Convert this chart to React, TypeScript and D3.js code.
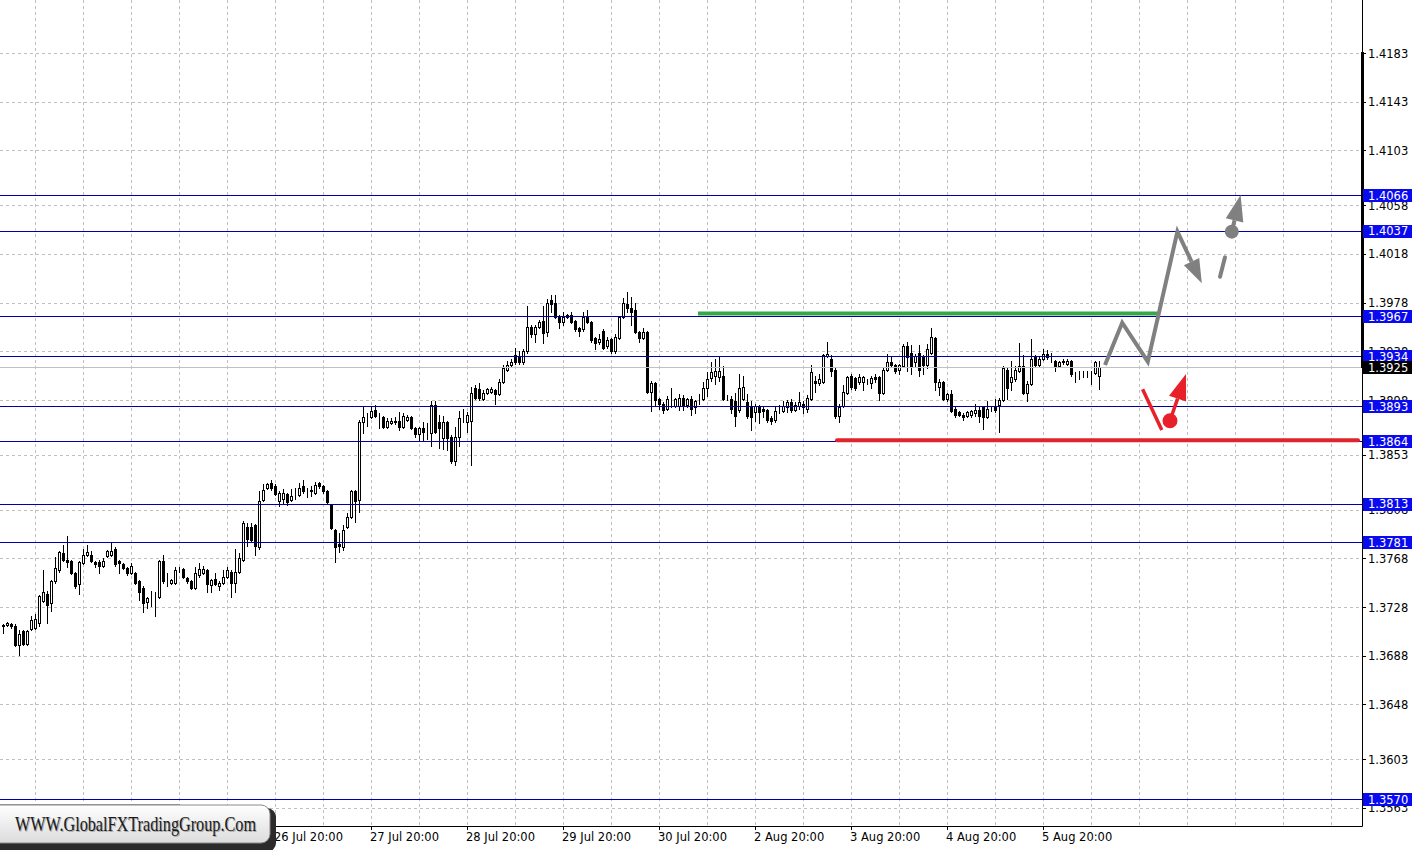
import React from 'react';
import * as d3 from 'd3';

// H1 candles, [open, high, low, close]
const ohlc: [number, number, number, number][] = [
  [1.3712, 1.3714, 1.3707, 1.3713], [1.3713, 1.3716, 1.3712, 1.3715], [1.3714, 1.3715, 1.3711, 1.3712], [1.3712, 1.3714, 1.3696, 1.3697],
  [1.3697, 1.3709, 1.3689, 1.3706], [1.3708, 1.3709, 1.3697, 1.3698], [1.3698, 1.3709, 1.3697, 1.3708], [1.3710, 1.3721, 1.3709, 1.3717],
  [1.3711, 1.3722, 1.3710, 1.3718], [1.3715, 1.3738, 1.3712, 1.3737], [1.3733, 1.3758, 1.3732, 1.3740], [1.3739, 1.3741, 1.3715, 1.3730],
  [1.3731, 1.3750, 1.3725, 1.3749], [1.3749, 1.3769, 1.3748, 1.3760], [1.3758, 1.3774, 1.3757, 1.3773], [1.3772, 1.3779, 1.3766, 1.3767],
  [1.3767, 1.3786, 1.3761, 1.3765], [1.3766, 1.3767, 1.3755, 1.3756], [1.3756, 1.3757, 1.3744, 1.3745], [1.3747, 1.3766, 1.3739, 1.3765],
  [1.3764, 1.3776, 1.3763, 1.3771], [1.3771, 1.3779, 1.3770, 1.3773], [1.3771, 1.3774, 1.3765, 1.3766], [1.3765, 1.3766, 1.3761, 1.3763],
  [1.3765, 1.3767, 1.3756, 1.3762], [1.3762, 1.3768, 1.3761, 1.3766], [1.3770, 1.3775, 1.3769, 1.3774], [1.3771, 1.3781, 1.3770, 1.3774],
  [1.3776, 1.3777, 1.3762, 1.3763], [1.3766, 1.3767, 1.3756, 1.3764], [1.3763, 1.3764, 1.3759, 1.3760], [1.3760, 1.3761, 1.3754, 1.3756],
  [1.3756, 1.3764, 1.3755, 1.3762], [1.3756, 1.3757, 1.3747, 1.3748], [1.3749, 1.3750, 1.3734, 1.3740], [1.3744, 1.3745, 1.3724, 1.3731],
  [1.3732, 1.3736, 1.3727, 1.3735], [1.3736, 1.3741, 1.3729, 1.3736], [1.3736, 1.3740, 1.3721, 1.3736], [1.3736, 1.3767, 1.3735, 1.3766],
  [1.3766, 1.3771, 1.3748, 1.3749], [1.3749, 1.3756, 1.3745, 1.3749], [1.3748, 1.3751, 1.3747, 1.3750], [1.3748, 1.3761, 1.3747, 1.3758],
  [1.3759, 1.3761, 1.3757, 1.3759], [1.3759, 1.3760, 1.3752, 1.3753], [1.3752, 1.3753, 1.3748, 1.3749], [1.3749, 1.3750, 1.3743, 1.3744],
  [1.3744, 1.3761, 1.3743, 1.3756], [1.3754, 1.3764, 1.3753, 1.3759], [1.3756, 1.3762, 1.3755, 1.3759], [1.3758, 1.3759, 1.3740, 1.3747],
  [1.3746, 1.3751, 1.3740, 1.3750], [1.3751, 1.3756, 1.3746, 1.3747], [1.3745, 1.3749, 1.3742, 1.3748], [1.3748, 1.3758, 1.3747, 1.3753],
  [1.3753, 1.3761, 1.3752, 1.3758], [1.3757, 1.3758, 1.3736, 1.3748], [1.3748, 1.3776, 1.3740, 1.3757], [1.3757, 1.3772, 1.3756, 1.3768],
  [1.3767, 1.3799, 1.3766, 1.3797], [1.3794, 1.3797, 1.3778, 1.3784], [1.3794, 1.3797, 1.3782, 1.3783], [1.3795, 1.3796, 1.3771, 1.3778],
  [1.3777, 1.3823, 1.3776, 1.3815], [1.3816, 1.3829, 1.3815, 1.3824], [1.3826, 1.3830, 1.3825, 1.3829], [1.3830, 1.3832, 1.3824, 1.3826],
  [1.3827, 1.3829, 1.3820, 1.3821], [1.3815, 1.3823, 1.3811, 1.3822], [1.3817, 1.3825, 1.3813, 1.3822], [1.3821, 1.3822, 1.3812, 1.3814],
  [1.3816, 1.3825, 1.3815, 1.3819], [1.3819, 1.3826, 1.3817, 1.3819], [1.3820, 1.3830, 1.3819, 1.3826], [1.3827, 1.3832, 1.3822, 1.3823],
  [1.3823, 1.3826, 1.3818, 1.3823], [1.3823, 1.3827, 1.3819, 1.3824], [1.3822, 1.3831, 1.3821, 1.3828], [1.3830, 1.3831, 1.3826, 1.3827],
  [1.3827, 1.3828, 1.3822, 1.3823], [1.3823, 1.3824, 1.3813, 1.3814], [1.3812, 1.3813, 1.3792, 1.3793], [1.3791, 1.3792, 1.3765, 1.3777],
  [1.3780, 1.3789, 1.3773, 1.3778], [1.3777, 1.3795, 1.3775, 1.3791], [1.3794, 1.3805, 1.3793, 1.3802], [1.3802, 1.3824, 1.3801, 1.3823],
  [1.3823, 1.3824, 1.3798, 1.3815], [1.3816, 1.3882, 1.3806, 1.3880], [1.3880, 1.3893, 1.3871, 1.3884], [1.3884, 1.3887, 1.3877, 1.3884],
  [1.3884, 1.3893, 1.3883, 1.3889], [1.3890, 1.3894, 1.3884, 1.3885], [1.3885, 1.3887, 1.3875, 1.3885], [1.3884, 1.3885, 1.3875, 1.3876],
  [1.3876, 1.3883, 1.3875, 1.3881], [1.3879, 1.3883, 1.3878, 1.3881], [1.3880, 1.3884, 1.3878, 1.3881], [1.3881, 1.3888, 1.3873, 1.3876],
  [1.3876, 1.3887, 1.3875, 1.3885], [1.3882, 1.3886, 1.3881, 1.3884], [1.3884, 1.3885, 1.3874, 1.3875], [1.3875, 1.3876, 1.3868, 1.3870],
  [1.3870, 1.3876, 1.3864, 1.3875], [1.3875, 1.3880, 1.3864, 1.3872], [1.3872, 1.3879, 1.3866, 1.3872], [1.3871, 1.3897, 1.3860, 1.3894],
  [1.3894, 1.3897, 1.3871, 1.3872], [1.3880, 1.3886, 1.3859, 1.3875], [1.3867, 1.3885, 1.3858, 1.3880], [1.3880, 1.3881, 1.3857, 1.3867],
  [1.3868, 1.3869, 1.3846, 1.3848], [1.3848, 1.3876, 1.3845, 1.3868], [1.3868, 1.3889, 1.3860, 1.3883], [1.3884, 1.3891, 1.3880, 1.3884],
  [1.3880, 1.3888, 1.3872, 1.3886], [1.3881, 1.3909, 1.3845, 1.3904], [1.3908, 1.3910, 1.3899, 1.3900], [1.3907, 1.3912, 1.3898, 1.3900],
  [1.3899, 1.3906, 1.3898, 1.3904], [1.3904, 1.3908, 1.3903, 1.3907], [1.3905, 1.3909, 1.3904, 1.3907], [1.3906, 1.3907, 1.3895, 1.3903],
  [1.3903, 1.3915, 1.3902, 1.3913], [1.3913, 1.3927, 1.3912, 1.3924], [1.3923, 1.3930, 1.3922, 1.3927], [1.3927, 1.3932, 1.3926, 1.3929],
  [1.3935, 1.3941, 1.3928, 1.3929], [1.3934, 1.3938, 1.3928, 1.3929], [1.3929, 1.3940, 1.3928, 1.3938], [1.3938, 1.3975, 1.3937, 1.3958],
  [1.3958, 1.3960, 1.3950, 1.3952], [1.3952, 1.3960, 1.3946, 1.3958], [1.3958, 1.3964, 1.3957, 1.3962], [1.3963, 1.3975, 1.3945, 1.3953],
  [1.3954, 1.3981, 1.3951, 1.3978], [1.3980, 1.3984, 1.3970, 1.3977], [1.3978, 1.3984, 1.3965, 1.3966], [1.3966, 1.3968, 1.3957, 1.3962],
  [1.3962, 1.3970, 1.3960, 1.3966], [1.3966, 1.3969, 1.3965, 1.3968], [1.3968, 1.3970, 1.3961, 1.3962], [1.3963, 1.3964, 1.3955, 1.3956],
  [1.3957, 1.3958, 1.3951, 1.3955], [1.3956, 1.3970, 1.3955, 1.3966], [1.3967, 1.3972, 1.3961, 1.3962], [1.3962, 1.3963, 1.3946, 1.3947],
  [1.3949, 1.3950, 1.3940, 1.3945], [1.3946, 1.3952, 1.3944, 1.3948], [1.3955, 1.3956, 1.3940, 1.3941], [1.3942, 1.3950, 1.3941, 1.3947],
  [1.3948, 1.3949, 1.3937, 1.3938], [1.3938, 1.3952, 1.3937, 1.3950], [1.3949, 1.3967, 1.3948, 1.3966], [1.3966, 1.3982, 1.3965, 1.3978],
  [1.3977, 1.3987, 1.3970, 1.3974], [1.3974, 1.3983, 1.3960, 1.3970], [1.3972, 1.3978, 1.3953, 1.3954], [1.3954, 1.3955, 1.3946, 1.3949],
  [1.3949, 1.3957, 1.3948, 1.3954], [1.3954, 1.3955, 1.3904, 1.3905], [1.3905, 1.3914, 1.3889, 1.3912], [1.3912, 1.3913, 1.3894, 1.3898],
  [1.3899, 1.3900, 1.3891, 1.3895], [1.3895, 1.3896, 1.3887, 1.3890], [1.3891, 1.3901, 1.3890, 1.3899], [1.3896, 1.3908, 1.3892, 1.3896],
  [1.3893, 1.3900, 1.3892, 1.3899], [1.3893, 1.3903, 1.3890, 1.3900], [1.3900, 1.3902, 1.3890, 1.3893], [1.3894, 1.3900, 1.3892, 1.3899],
  [1.3899, 1.3901, 1.3886, 1.3891], [1.3892, 1.3898, 1.3887, 1.3897], [1.3899, 1.3903, 1.3895, 1.3899], [1.3899, 1.3913, 1.3898, 1.3908],
  [1.3908, 1.3921, 1.3901, 1.3915], [1.3916, 1.3929, 1.3914, 1.3921], [1.3918, 1.3932, 1.3911, 1.3922], [1.3917, 1.3933, 1.3914, 1.3922],
  [1.3918, 1.3926, 1.3898, 1.3899], [1.3900, 1.3902, 1.3898, 1.3900], [1.3899, 1.3901, 1.3887, 1.3891], [1.3897, 1.3904, 1.3877, 1.3885],
  [1.3890, 1.3919, 1.3888, 1.3908], [1.3899, 1.3918, 1.3898, 1.3909], [1.3896, 1.3903, 1.3883, 1.3885], [1.3893, 1.3897, 1.3873, 1.3884],
  [1.3888, 1.3895, 1.3881, 1.3893], [1.3893, 1.3894, 1.3879, 1.3888], [1.3891, 1.3893, 1.3884, 1.3889], [1.3890, 1.3891, 1.3880, 1.3882],
  [1.3883, 1.3885, 1.3878, 1.3881], [1.3882, 1.3892, 1.3880, 1.3889], [1.3892, 1.3894, 1.3887, 1.3892], [1.3889, 1.3897, 1.3888, 1.3893],
  [1.3892, 1.3898, 1.3888, 1.3896], [1.3896, 1.3899, 1.3888, 1.3890], [1.3890, 1.3896, 1.3889, 1.3894], [1.3893, 1.3905, 1.3891, 1.3896],
  [1.3895, 1.3897, 1.3887, 1.3892], [1.3891, 1.3902, 1.3888, 1.3900], [1.3899, 1.3927, 1.3898, 1.3921], [1.3914, 1.3918, 1.3905, 1.3912],
  [1.3912, 1.3919, 1.3910, 1.3915], [1.3913, 1.3936, 1.3912, 1.3935], [1.3934, 1.3946, 1.3933, 1.3936], [1.3932, 1.3935, 1.3918, 1.3922],
  [1.3923, 1.3924, 1.3883, 1.3885], [1.3885, 1.3895, 1.3880, 1.3892], [1.3893, 1.3910, 1.3892, 1.3905], [1.3904, 1.3918, 1.3903, 1.3917],
  [1.3918, 1.3919, 1.3907, 1.3909], [1.3916, 1.3917, 1.3906, 1.3908], [1.3913, 1.3919, 1.3911, 1.3917], [1.3913, 1.3918, 1.3906, 1.3917],
  [1.3913, 1.3915, 1.3911, 1.3913], [1.3912, 1.3918, 1.3908, 1.3916], [1.3917, 1.3919, 1.3913, 1.3915], [1.3917, 1.3918, 1.3898, 1.3904],
  [1.3904, 1.3925, 1.3903, 1.3923], [1.3923, 1.3936, 1.3922, 1.3929], [1.3929, 1.3933, 1.3925, 1.3927], [1.3927, 1.3928, 1.3920, 1.3922],
  [1.3923, 1.3928, 1.3919, 1.3927], [1.3926, 1.3944, 1.3925, 1.3942], [1.3942, 1.3946, 1.3922, 1.3933], [1.3937, 1.3943, 1.3919, 1.3926],
  [1.3929, 1.3936, 1.3926, 1.3934], [1.3937, 1.3943, 1.3918, 1.3923], [1.3934, 1.3935, 1.3919, 1.3927], [1.3927, 1.3944, 1.3924, 1.3940],
  [1.3937, 1.3957, 1.3936, 1.3950], [1.3949, 1.3950, 1.3906, 1.3913], [1.3909, 1.3915, 1.3902, 1.3913], [1.3913, 1.3914, 1.3898, 1.3899],
  [1.3899, 1.3904, 1.3897, 1.3903], [1.3903, 1.3906, 1.3888, 1.3889], [1.3891, 1.3893, 1.3884, 1.3886], [1.3888, 1.3889, 1.3885, 1.3886],
  [1.3886, 1.3887, 1.3882, 1.3884], [1.3885, 1.3889, 1.3884, 1.3888], [1.3886, 1.3890, 1.3884, 1.3889], [1.3887, 1.3895, 1.3885, 1.3890],
  [1.3890, 1.3892, 1.3880, 1.3885], [1.3892, 1.3893, 1.3874, 1.3884], [1.3884, 1.3897, 1.3883, 1.3891], [1.3891, 1.3893, 1.3889, 1.3891],
  [1.3893, 1.3899, 1.3888, 1.3890], [1.3894, 1.3900, 1.3872, 1.3898], [1.3898, 1.3926, 1.3897, 1.3924], [1.3923, 1.3925, 1.3899, 1.3908],
  [1.3913, 1.3930, 1.3906, 1.3917], [1.3915, 1.3926, 1.3914, 1.3923], [1.3922, 1.3945, 1.3921, 1.3926], [1.3926, 1.3935, 1.3903, 1.3904],
  [1.3904, 1.3914, 1.3897, 1.3911], [1.3911, 1.3948, 1.3910, 1.3932], [1.3933, 1.3935, 1.3926, 1.3927], [1.3927, 1.3933, 1.3925, 1.3932],
  [1.3932, 1.3940, 1.3931, 1.3936], [1.3936, 1.3939, 1.3932, 1.3933], [1.3933, 1.3937, 1.3929, 1.3933], [1.3930, 1.3931, 1.3922, 1.3926],
  [1.3926, 1.3930, 1.3925, 1.3929], [1.3929, 1.3932, 1.3928, 1.3930], [1.3928, 1.3932, 1.3927, 1.3930], [1.3930, 1.3931, 1.3918, 1.3919],
  [1.3919, 1.3921, 1.3913, 1.3919], [1.3920, 1.3922, 1.3915, 1.3920], [1.3920, 1.3922, 1.3917, 1.3920], [1.3920, 1.3922, 1.3917, 1.3920],
  [1.3920, 1.3922, 1.3911, 1.3920], [1.3920, 1.3930, 1.3919, 1.3929], [1.3918, 1.3930, 1.3907, 1.3925],
];

const levels = [1.4066, 1.4037, 1.3967, 1.3934, 1.3893, 1.3864, 1.3813, 1.3781, 1.3570];
const bidPrice = 1.3925;
const priceTicks = [1.4183, 1.4143, 1.4103, 1.4058, 1.4018, 1.3978, 1.3938, 1.3898, 1.3853, 1.3808, 1.3768, 1.3728, 1.3688, 1.3648, 1.3603, 1.3563];
const dateBars = [20, 44, 68, 92, 116, 140, 164, 188, 212, 236, 260];
const dateTexts = ['22 Jul 20:00', '23 Jul 20:00', '26 Jul 20:00', '27 Jul 20:00', '28 Jul 20:00', '29 Jul 20:00', '30 Jul 20:00', '2 Aug 20:00', '3 Aug 20:00', '4 Aug 20:00', '5 Aug 20:00'];

// drawn objects: [bar, price]
const resistanceSeg: [number, number][] = [[173.75, 1.3969], [288.5, 1.3969]];
const supportSeg: [number, number][] = [[208.5, 1.3865], [338.75, 1.3865]];
const grayZigzag: [number, number][] = [[275.5, 1.39268], [279.8, 1.39615], [286.2, 1.39295], [293.6, 1.40363], [299.7, 1.39939]];
const grayDash: [number, number][] = [[304.25, 1.39993], [305.5, 1.40152]];
const grayDot: [number, number] = [307.2, 1.40363];
const grayUpTip: [number, number] = [309.4, 1.40664];
const redStroke: [number, number][] = [[284.9, 1.39068], [289.7, 1.38734]];
const redDot: [number, number] = [291.75, 1.38810];
const redUpTip: [number, number] = [295.75, 1.39194];

const plotRight = 1362;
const plotBottom = 826;
const font = '"DejaVu Sans", Tahoma, sans-serif';

function arrowHead(x1: number, y1: number, x2: number, y2: number, len: number, half: number) {
  const dx = x2 - x1, dy = y2 - y1;
  const d = Math.hypot(dx, dy);
  const ux = dx / d, uy = dy / d;
  const bx = x2 - ux * len, by = y2 - uy * len;
  const pts = [[x2, y2], [bx - uy * half, by + ux * half], [bx + uy * half, by - ux * half]];
  return { base: [bx, by], points: pts.map(p => p.join(',')).join(' ') };
}

export default function App() {
  const x = d3.scaleLinear().domain([-0.75, 339.75]).range([0, plotRight]);
  const y = d3.scaleLinear().domain([1.354814, 1.422657]).range([plotBottom, 0]);
  const gridBars = d3.range(8, 340, 12);
  const px = (p: [number, number]) => [x(p[0]), y(p[1])];
  const line = d3.line<[number, number]>().x(d => x(d[0])).y(d => y(d[1]));
  const crisp = (v: number) => Math.round(v) + 0.5;

  const zz = grayZigzag;
  const zzLast = px(zz[zz.length - 1]);
  const zzPrev = px(zz[zz.length - 2]);
  const zzHead = arrowHead(zzPrev[0], zzPrev[1], zzLast[0], zzLast[1], 24, 8.5);
  const zzBody = [...zz.slice(0, -1).map(px), zzHead.base];

  const gd = px(grayDot), gt = px(grayUpTip);
  const gHead = arrowHead(gd[0], gd[1], gt[0], gt[1], 26, 9);
  const rd = px(redDot), rt = px(redUpTip);
  const rHead = arrowHead(rd[0], rd[1], rt[0], rt[1], 26, 9);

  return (
    <svg width={1419} height={850} style={{ position: 'absolute', left: 0, top: 0, background: '#fff' }}>
      <rect width={1419} height={850} fill="#fff" />
      {/* grid */}
      {gridBars.map(b => (
        <line key={'gv' + b} x1={crisp(x(b))} x2={crisp(x(b))} y1={0} y2={plotBottom}
          stroke="#c0c0c0" strokeDasharray="3,3" />
      ))}
      {priceTicks.map(t => (
        <line key={'gh' + t} x1={0} x2={plotRight} y1={crisp(y(t))} y2={crisp(y(t))}
          stroke="#c0c0c0" strokeDasharray="3,3" />
      ))}

      {/* candles */}
      {ohlc.map(([o, h, l, c], i) => {
        const cx = Math.round(x(i)) + 0.5;
        const yo = Math.round(y(o)), yc = Math.round(y(c));
        const yh = Math.round(y(h)), yl = Math.round(y(l));
        const top = Math.min(yo, yc), bot = Math.max(yo, yc);
        return (
          <g key={'c' + i}>
            <line x1={cx} x2={cx} y1={yh} y2={yl + 1} stroke="#000" />
            <rect x={cx - 1} y={top + 0.5} width={2} height={bot - top}
              fill={c >= o ? '#fff' : '#000'} stroke="#000" />
          </g>
        );
      })}

      {/* bid line */}
      <line x1={0} x2={plotRight} y1={crisp(y(bidPrice))} y2={crisp(y(bidPrice))} stroke="#c0c0c0" />
      {/* levels */}
      {levels.map(v => (
        <line key={'lv' + v} x1={0} x2={plotRight} y1={crisp(y(v))} y2={crisp(y(v))} stroke="#0000a8" />
      ))}

      {/* drawn segments */}
      <path d={line(resistanceSeg) || ''} stroke="#36a84c" strokeWidth={4} fill="none" />
      <path d={line(supportSeg) || ''} stroke="#e0242c" strokeWidth={4} fill="none" strokeLinecap="round" />

      {/* gray forecast */}
      <polyline points={zzBody.map(p => p.join(',')).join(' ')} fill="none" stroke="#808080" strokeWidth={4} strokeLinejoin="miter" />
      <polygon points={zzHead.points} fill="#808080" />
      <path d={line(grayDash) || ''} stroke="#808080" strokeWidth={4} fill="none" strokeLinecap="round" />
      <line x1={gd[0]} y1={gd[1]} x2={gHead.base[0]} y2={gHead.base[1]} stroke="#808080" strokeWidth={4} />
      <polygon points={gHead.points} fill="#808080" />
      <circle cx={gd[0]} cy={gd[1]} r={7} fill="#808080" />

      {/* red forecast */}
      <path d={line(redStroke) || ''} stroke="#e8202a" strokeWidth={3.5} fill="none" />
      <line x1={rd[0]} y1={rd[1]} x2={rHead.base[0]} y2={rHead.base[1]} stroke="#e8202a" strokeWidth={3.5} />
      <polygon points={rHead.points} fill="#e8202a" />
      <circle cx={rd[0]} cy={rd[1]} r={7.5} fill="#e8202a" />

      {/* axes */}
      <line x1={plotRight + 0.5} x2={plotRight + 0.5} y1={0} y2={plotBottom + 0.5} stroke="#000" />
      <line x1={0} x2={plotRight + 0.5} y1={plotBottom + 0.5} y2={plotBottom + 0.5} stroke="#000" />
      <rect x={plotRight - 1} y={Math.round(y(priceTicks[0])) - 1} width={3}
        height={Math.round(y(bidPrice)) - Math.round(y(priceTicks[0])) + 2} fill="#000" />

      {priceTicks.map(t => (
        <g key={'pt' + t}>
          <line x1={plotRight} x2={plotRight + 4} y1={crisp(y(t))} y2={crisp(y(t))} stroke="#000" />
          <text x={1368} y={y(t) + 4.5} fontFamily={font} fontSize={11.5} fill="#000">{t.toFixed(4)}</text>
        </g>
      ))}
      {levels.map(v => (
        <g key={'lb' + v}>
          <rect x={1363} y={Math.round(y(v)) - 6} width={49} height={13} fill="#0a0af0" />
          <text x={1368} y={y(v) + 4.5} fontFamily={font} fontSize={11.5} fill="#fff">{v.toFixed(4)}</text>
        </g>
      ))}
      <rect x={1363} y={Math.round(y(bidPrice)) - 6} width={49} height={13} fill="#000" />
      <text x={1368} y={y(bidPrice) + 4.5} fontFamily={font} fontSize={11.5} fill="#fff">{bidPrice.toFixed(4)}</text>

      {dateBars.map((b, k) => (
        <g key={'db' + b}>
          <line x1={crisp(x(b))} x2={crisp(x(b))} y1={plotBottom} y2={plotBottom + 4} stroke="#000" />
          <text x={Math.round(x(b)) - 1} y={841} fontFamily={font} fontSize={11.5} fill="#000">{dateTexts[k]}</text>
        </g>
      ))}

      {/* watermark */}
      <defs>
        <linearGradient id="wm" x1="0" y1="0" x2="0" y2="1">
          <stop offset="0" stopColor="#ffffff" />
          <stop offset="1" stopColor="#dcdcdc" />
        </linearGradient>
      </defs>
      <rect x={0} y={804} width={180} height={4} fill="#9a9a9a" />
      <rect x={-10} y={808} width={286} height={44} rx={9} fill="#2b2b2b" />
      <rect x={-10} y={805} width={280} height={38} rx={9} fill="url(#wm)" stroke="#8a8a8a" />
      <text x={16} y={832} fontFamily='"Liberation Serif", "DejaVu Serif", serif' fontSize={21}
        textLength={241} lengthAdjust="spacingAndGlyphs" fill="#aaa">WWW.GlobalFXTradingGroup.Com</text>
      <text x={15} y={831} fontFamily='"Liberation Serif", "DejaVu Serif", serif' fontSize={21}
        textLength={241} lengthAdjust="spacingAndGlyphs" fill="#1a1a1a">WWW.GlobalFXTradingGroup.Com</text>
    </svg>
  );
}
